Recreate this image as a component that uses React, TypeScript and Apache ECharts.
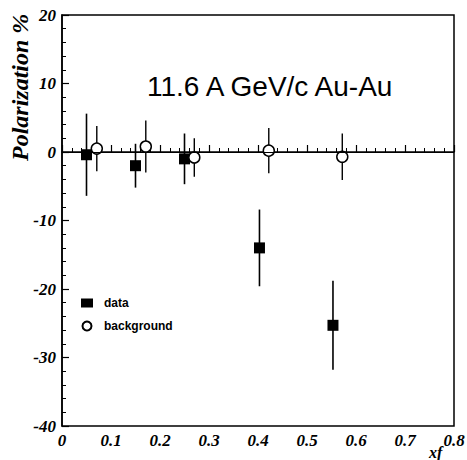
import React, { useEffect, useRef } from "react";
import * as echarts from "echarts";

const dataX = [0.05, 0.15, 0.25, 0.403, 0.553];
const dataY = [-0.4, -2.0, -1.0, -14.0, -25.3];
const dataErr = [6.0, 3.2, 3.7, 5.6, 6.5];

const bgX = [0.071, 0.171, 0.27, 0.422, 0.572];
const bgY = [0.5, 0.8, -0.8, 0.2, -0.7];
const bgErr = [3.3, 3.8, 2.8, 3.3, 3.4];

const xTicks = { min: 0, max: 0.8, interval: 0.1 };
const yTicks = { min: -40, max: 20, interval: 10 };

const titleText = "11.6 A GeV/c Au-Au";
const yName = "Polarization %";
const xName = "xf";
const legendNames = ["data", "background"];

const serif = "'Liberation Serif', 'Times New Roman', serif";
const sans = "'Liberation Sans', Arial, sans-serif";

function errSeries(xs: number[], ys: number[], es: number[], width: number) {
  return {
    type: "custom",
    silent: true,
    z: 1,
    data: xs.map((x, i) => [x, ys[i] - es[i], ys[i] + es[i]]),
    renderItem: (_p: any, api: any) => {
      const x = api.value(0);
      const lo = api.coord([x, api.value(1)]);
      const hi = api.coord([x, api.value(2)]);
      return {
        type: "line",
        shape: { x1: lo[0], y1: lo[1], x2: hi[0], y2: hi[1] },
        style: { stroke: "#000", lineWidth: width },
      };
    },
  };
}

export default function App() {
  const ref = useRef<HTMLDivElement>(null);
  useEffect(() => {
    if (!ref.current) return;
    const chart = echarts.init(ref.current, null, { renderer: "svg" });
    const axisLabel = {
      fontFamily: serif,
      fontStyle: "italic",
      fontWeight: "bold",
      fontSize: 17,
      color: "#000",
    };
    chart.setOption({
      animation: false,
      backgroundColor: "#fff",
      grid: {
        left: 62,
        right: 13,
        top: 15,
        bottom: 34,
        show: true,
        borderColor: "#000",
        borderWidth: 1.5,
        backgroundColor: "transparent",
        outerBoundsMode: "none",
      },
      legend: {
        orient: "vertical",
        left: 76,
        top: 292,
        itemGap: 11,
        itemWidth: 12,
        itemHeight: 9,
        data: [
          { name: legendNames[0], icon: "rect" },
          { name: legendNames[1], icon: "circle" },
        ],
        textStyle: {
          fontFamily: sans,
          fontWeight: "bold",
          fontSize: 12,
          color: "#000",
          padding: [0, 0, 0, 6],
        },
      },
      xAxis: {
        type: "value",
        min: xTicks.min,
        max: xTicks.max,
        interval: xTicks.interval,
        axisLine: { lineStyle: { color: "#000", width: 1.5 } },
        axisTick: { inside: true, length: 7, lineStyle: { color: "#000", width: 1.2 } },
        minorTick: { show: true, splitNumber: 5, length: 4, lineStyle: { color: "#000", width: 1 } },
        splitLine: { show: false },
        axisLabel: { ...axisLabel, margin: 6 },
      },
      yAxis: {
        type: "value",
        min: yTicks.min,
        max: yTicks.max,
        interval: yTicks.interval,
        axisLine: { lineStyle: { color: "#000", width: 1.5 } },
        axisTick: { inside: true, length: 7, lineStyle: { color: "#000", width: 1.2 } },
        minorTick: { show: true, splitNumber: 5, length: 4, lineStyle: { color: "#000", width: 1 } },
        splitLine: { show: false },
        axisLabel: { ...axisLabel, margin: 6 },
      },
      graphic: [
        {
          type: "text",
          x: 147,
          y: 86,
          style: {
            text: titleText,
            fontFamily: sans,
            fontSize: 28,
            fill: "#000",
            textVerticalAlign: "middle",
          },
        },
        {
          type: "text",
          x: 8,
          y: 161,
          rotation: Math.PI / 2,
          style: {
            text: yName,
            fontFamily: serif,
            fontStyle: "italic",
            fontWeight: "bold",
            fontSize: 24,
            fill: "#000",
            textAlign: "left",
            textVerticalAlign: "top",
          },
        },
        {
          type: "text",
          x: 429,
          y: 444,
          style: {
            text: xName,
            fontFamily: serif,
            fontStyle: "italic",
            fontWeight: "bold",
            fontSize: 16,
            fill: "#000",
          },
        },
      ],
      series: [
        {
          type: "line",
          silent: true,
          data: [],
          markLine: {
            silent: true,
            symbol: "none",
            label: { show: false },
            lineStyle: { color: "#000", width: 1.2, type: "solid", opacity: 1 },
            data: [{ yAxis: 0 }],
          },
        },
        errSeries(dataX, dataY, dataErr, 1.6),
        errSeries(bgX, bgY, bgErr, 1.4),
        {
          name: legendNames[0],
          type: "scatter",
          symbol: "rect",
          symbolSize: 11,
          z: 3,
          itemStyle: { color: "#000", opacity: 1 },
          data: dataX.map((x, i) => [x, dataY[i]]),
        },
        {
          name: legendNames[1],
          type: "scatter",
          symbol: "circle",
          symbolSize: 11,
          z: 3,
          itemStyle: { color: "#fff", borderColor: "#000", borderWidth: 1.5, opacity: 1 },
          data: bgX.map((x, i) => [x, bgY[i]]),
        },
      ],
    });
    return () => chart.dispose();
  }, []);
  return (
    <div
      ref={ref}
      style={{ position: "absolute", left: 0, top: 0, width: 467, height: 460 }}
    />
  );
}
